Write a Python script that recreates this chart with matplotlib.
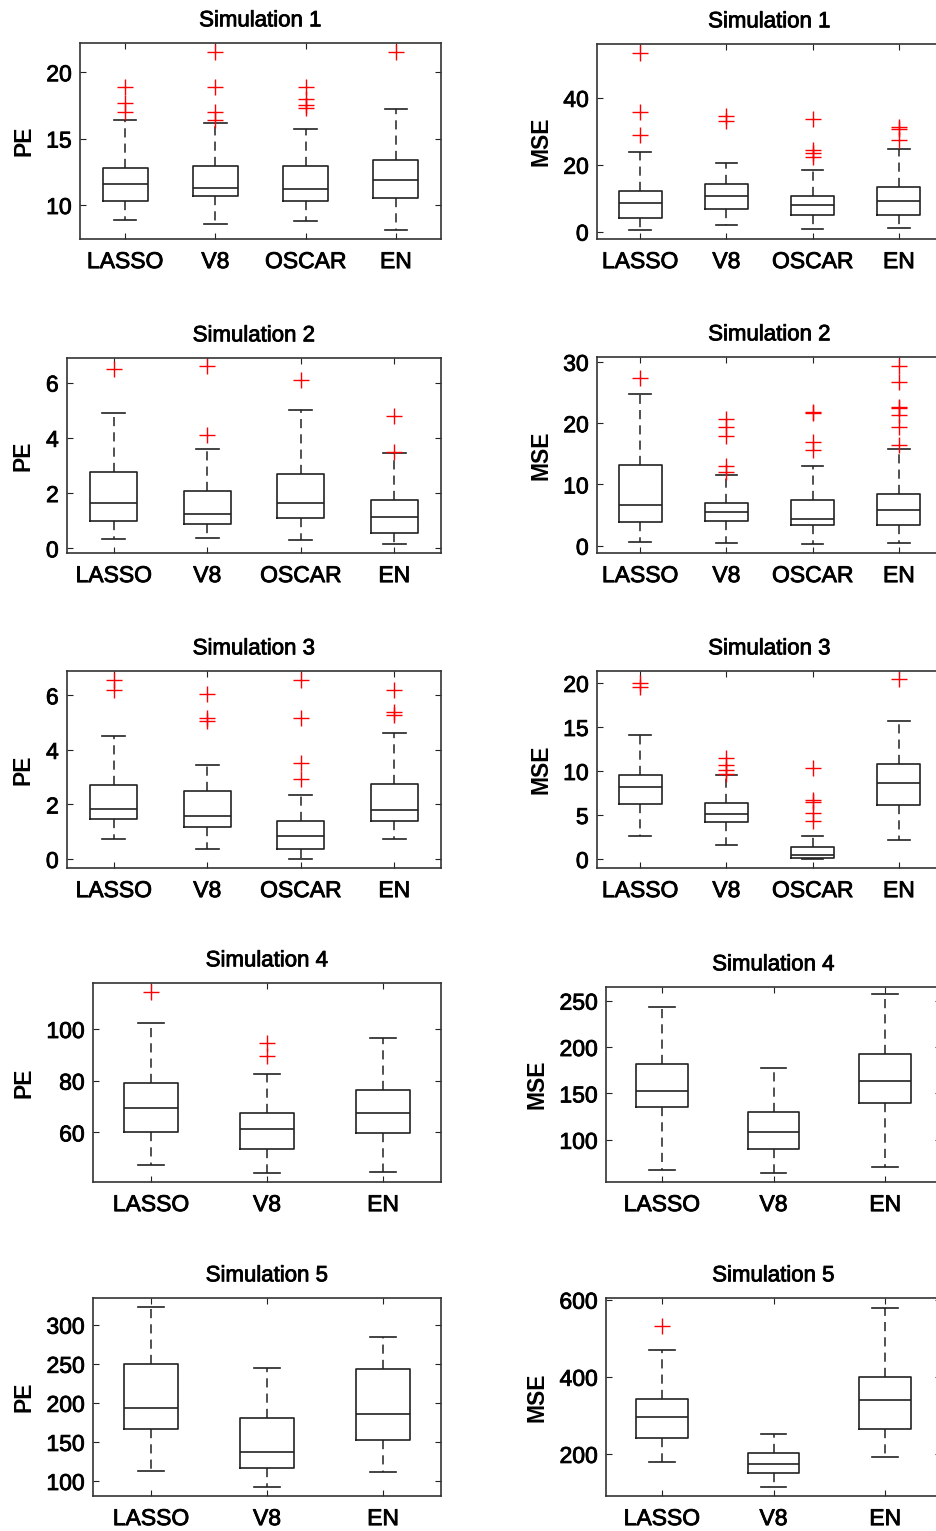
import matplotlib
matplotlib.use("Agg")
import matplotlib.pyplot as plt
import matplotlib.patheffects as pe

plt.rcParams['font.family'] = ['Liberation Sans', 'DejaVu Sans']

methods4 = ["LASSO", "V8", "OSCAR", "EN"]
methods3 = ["LASSO", "V8", "EN"]

# each box: [lower whisker, q1, median, q3, upper whisker]
pe1_box = [[8.87, 10.30, 11.58, 12.81, 16.37], [8.57, 10.68, 11.25, 12.91, 16.17],
           [8.77, 10.30, 11.18, 12.91, 15.69], [8.10, 10.50, 11.85, 13.36, 17.24]]
pe1_out = [[18.85, 17.69, 17.02], [21.53, 18.85, 17.02, 16.37], [18.85, 18.02, 17.52, 17.29], [21.53]]
mse1_box = [[0.4, 4.07, 8.44, 12.2, 23.9], [1.9, 6.85, 10.6, 14.2, 20.5],
            [0.8, 4.86, 8.04, 10.6, 18.3], [1.1, 4.96, 9.23, 13.3, 24.8]]
mse1_out = [[53.5, 35.7, 28.9], [34.5, 33.2], [33.8, 24.5, 23.5, 22.3], [31.3, 30.6, 27.4]]

pe2_box = [[0.32, 0.99, 1.64, 2.77, 4.89], [0.37, 0.88, 1.26, 2.08, 3.61],
           [0.29, 1.11, 1.64, 2.68, 5.00], [0.14, 0.57, 1.15, 1.76, 3.46]]
pe2_out = [[6.50], [6.59, 4.10], [6.08], [4.80, 3.50]]
mse2_box = [[0.65, 3.80, 6.67, 13.1, 24.7], [0.43, 3.96, 5.53, 7.05, 11.5],
            [0.22, 3.36, 4.40, 7.49, 13.0], [0.43, 3.36, 5.86, 8.52, 15.8]]
mse2_out = [[27.4], [20.6, 19.4, 17.9, 13.0, 12.0], [21.9, 21.7, 17.0, 15.7],
            [29.4, 26.7, 22.7, 22.5, 21.4, 19.4, 16.5]]

pe3_box = [[0.74, 1.45, 1.83, 2.71, 4.49], [0.38, 1.17, 1.59, 2.48, 3.46],
           [0.0, 0.38, 0.84, 1.40, 2.35], [0.74, 1.40, 1.78, 2.76, 4.63]]
pe3_out = [[6.56, 6.20], [6.04, 5.16, 5.04], [6.56, 5.16, 3.51, 2.93], [6.20, 5.40, 5.26]]
mse3_box = [[2.61, 6.24, 8.13, 9.60, 14.1], [1.63, 4.20, 5.14, 6.39, 9.60],
            [0.0, 0.11, 0.42, 1.32, 2.61], [2.15, 6.09, 8.58, 10.74, 15.7]]
mse3_out = [[19.96, 19.5], [11.5, 10.7, 10.1, 9.65], [10.3, 6.73, 6.50, 5.26, 4.31], [20.4]]

pe4_box = [[47.2, 60.1, 69.5, 79.0, 102.2], [44.3, 53.7, 61.5, 67.6, 82.5],
           [44.8, 59.6, 67.6, 76.4, 96.4]]
pe4_out = [[114.2], [94.5, 89.4], []]
mse4_box = [[67.0, 135.8, 152.3, 181.3, 243.2], [64.2, 90.3, 108.2, 130.1, 177.3],
            [71.0, 139.7, 163.4, 192.0, 257.2]]
mse4_out = [[], [], []]

pe5_box = [[113.2, 166.2, 193.6, 250.0, 322.2], [91.9, 116.7, 137.6, 180.3, 244.4],
           [111.5, 153.0, 185.5, 243.2, 284.6]]
pe5_out = [[], [], []]
mse5_box = [[180.1, 240.7, 297.0, 342.9, 469.3], [113.4, 149.8, 173.2, 203.5, 252.8],
            [193.1, 264.1, 340.3, 399.1, 579.2]]
mse5_out = [[532.5], [], []]

pe_ticks = [[10, 15, 20], [0, 2, 4, 6], [0, 2, 4, 6], [60, 80, 100], [100, 150, 200, 250, 300]]
mse_ticks = [[0, 20, 40], [0, 10, 20, 30], [0, 5, 10, 15, 20], [100, 150, 200, 250], [200, 400, 600]]
pe_lims = [(7.44, 22.2), (-0.17, 6.89), (-0.33, 6.89), (40.8, 117.8), (80.8, 334.2)]
mse_lims = [(-2.2, 56.1), (-1.19, 30.8), (-1.02, 21.36), (54.5, 264.7), (90.9, 604.3)]

W, H = 937, 1531
fig = plt.figure(figsize=(W / 100, H / 100), dpi=100)
heavy = [pe.withStroke(linewidth=0.6, foreground='black')]


def add_ax(x0, y0, x1, y1):
    return fig.add_axes([x0 / W, 1 - y1 / H, (x1 - x0) / W, (y1 - y0) / H])


def draw(ax, names, boxes, outs, ticks, lims, title, ylabel):
    n = len(names)
    width = 0.5 if n == 4 else 0.46
    stats = []
    for name, b, o in zip(names, boxes, outs):
        stats.append(dict(label=name, whislo=b[0], q1=b[1], med=b[2], q3=b[3],
                          whishi=b[4], fliers=o))
    ax.bxp(stats, positions=range(1, n + 1), widths=width, capwidths=width * 0.5,
           boxprops=dict(color='#222222', lw=1.2),
           medianprops=dict(color='#222222', lw=1.2),
           whiskerprops=dict(color='#222222', lw=1.1, linestyle=(0, (6, 4))),
           capprops=dict(color='#222222', lw=1.2),
           flierprops=dict(marker='+', markeredgecolor='red', markersize=11,
                           markeredgewidth=1.0, linestyle='none'))
    ax.set_xlim(0.5, n + 0.5)
    ax.set_ylim(*lims)
    ax.set_yticks(ticks)
    ax.set_xticks(range(1, n + 1))
    ax.set_xticklabels(names)
    ax.tick_params(direction='in', top=True, right=True, length=4, width=0.8,
                   labelsize=16.5, colors='#222222', labelcolor='black')
    ax.tick_params(axis='x', pad=8)
    ax.tick_params(axis='y', pad=6)
    for lab in ax.get_xticklabels() + ax.get_yticklabels():
        lab.set_path_effects(heavy)
    for s in ax.spines.values():
        s.set_color('#333333')
        s.set_linewidth(1.2)
    t = ax.set_title(title, fontsize=16, pad=12)
    t.set_path_effects(heavy)
    ax.set_ylabel(ylabel, fontsize=16.5, fontweight='bold', labelpad=8)


pe_boxes = [pe1_box, pe2_box, pe3_box, pe4_box, pe5_box]
pe_outs = [pe1_out, pe2_out, pe3_out, pe4_out, pe5_out]
mse_boxes = [mse1_box, mse2_box, mse3_box, mse4_box, mse5_box]
mse_outs = [mse1_out, mse2_out, mse3_out, mse4_out, mse5_out]

left_pos = [(80, 43, 441, 239), (67, 358, 441, 553), (67, 671, 441, 868),
            (93, 983, 441, 1182), (93, 1298, 441, 1496)]
right_pos = [(597, 44, 942, 239), (597, 357, 942, 553), (597, 671, 942, 868),
             (606, 987, 941, 1182), (606, 1298, 941, 1496)]

for i in range(5):
    names = methods4 if i < 3 else methods3
    axl = add_ax(*left_pos[i])
    draw(axl, names, pe_boxes[i], pe_outs[i], pe_ticks[i], pe_lims[i],
         "Simulation %d" % (i + 1), "PE")
    axr = add_ax(*right_pos[i])
    draw(axr, names, mse_boxes[i], mse_outs[i], mse_ticks[i], mse_lims[i],
         "Simulation %d" % (i + 1), "MSE")

fig.savefig("out.png", dpi=100)
